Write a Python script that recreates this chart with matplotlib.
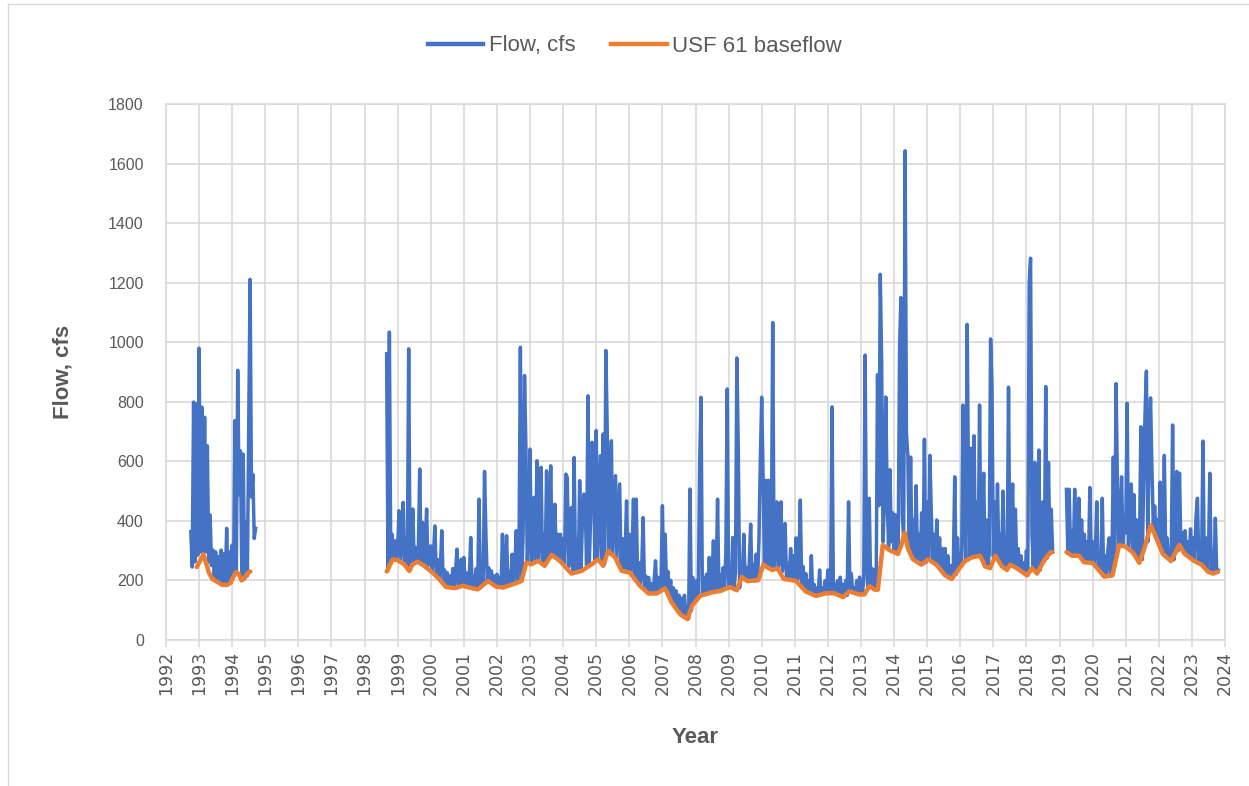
import numpy as np
import matplotlib
matplotlib.use("Agg")
import matplotlib.pyplot as plt
from matplotlib.lines import Line2D

# --- flow (cfs), half-monthly samples, three periods of record ---
flow_start1 = 1992.75
flow_q1 = [364, 245, 799, 262, 793, 285,                                           # 1992
           980, 296, 782, 285, 748, 296, 652, 262, 420, 250, 302, 215,
           296, 205, 280, 200, 302, 195, 290, 190, 375, 190, 296, 195,             # 1993
           319, 215, 737, 230, 906, 488, 635, 215, 624, 205, 398, 215,
           725, 1211, 480, 556, 341, 375]                                          # 1994

flow_start2 = 1998 + 16 / 24
flow_q2 = [961, 235, 1034, 265, 355, 272, 333, 270,                                 # 1998
           311, 434, 265, 330, 462, 258, 322, 245, 978, 235, 330, 440,
           255, 311, 260, 300, 574, 262, 395, 255, 310, 440, 250, 300,             # 1999
           316, 232, 290, 383, 222, 270, 208, 250, 367, 195, 235, 182,
           226, 180, 215, 178, 240, 176, 230, 305, 178, 225, 271, 184,             # 2000
           277, 180, 225, 178, 220, 344, 176, 215, 174, 240, 172, 473,
           175, 232, 185, 566, 355, 195, 243, 195, 232, 185, 215, 180,             # 2001
           221, 180, 210, 178, 355, 180, 221, 350, 182, 230, 185, 288,
           190, 250, 367, 195, 288, 983, 200, 360, 888, 647, 262, 355,             # 2002
           641, 256, 340, 479, 262, 602, 266, 345, 580, 255, 355, 250,
           568, 270, 367, 585, 285, 340, 456, 280, 355, 270, 355, 262,             # 2003
           340, 255, 557, 546, 245, 330, 445, 228, 613, 230, 340, 232,
           535, 240, 400, 490, 467, 250, 820, 260, 420, 664, 624, 262,             # 2004
           703, 270, 450, 619, 262, 692, 255, 972, 703, 290, 450, 669,
           285, 420, 552, 275, 400, 524, 250, 340, 238, 300, 467, 232,             # 2005
           355, 228, 300, 473, 215, 473, 205, 260, 185, 240, 411, 175,
           215, 165, 210, 158, 190, 157, 200, 266, 158, 210, 162, 195,             # 2006
           451, 175, 355, 170, 230, 160, 200, 135, 175, 120, 165, 105,
           150, 90, 140, 82, 150, 78, 110, 72, 507, 100, 210, 125,                 # 2007
           131, 200, 140, 591, 815, 150, 210, 152, 221, 155, 277, 158,
           210, 333, 160, 215, 473, 163, 220, 165, 243, 170, 288, 843,             # 2008
           175, 221, 176, 344, 170, 230, 947, 647, 175, 243, 208, 355,
           205, 243, 200, 260, 389, 200, 254, 198, 288, 200, 333, 596,             # 2009
           815, 557, 255, 536, 250, 536, 245, 300, 1066, 240, 307, 464,
           242, 283, 464, 230, 271, 391, 207, 259, 205, 307, 203, 283,             # 2010
           201, 343, 200, 247, 470, 190, 247, 175, 223, 165, 200, 160,
           283, 155, 187, 150, 175, 150, 235, 152, 175, 155, 199, 157,             # 2011
           235, 158, 180, 783, 158, 187, 155, 199, 150, 211, 146, 187,
           145, 200, 150, 464, 162, 223, 160, 175, 156, 200, 154, 211,             # 2012
           187, 155, 200, 957, 283, 180, 476, 185, 240, 172, 235, 170,
           891, 451, 1228, 933, 330, 464, 816, 476, 310, 572, 330, 427,            # 2013
           300, 420, 379, 295, 987, 1150, 415, 340, 1643, 692, 620, 310,
           614, 285, 403, 275, 518, 265, 355, 258, 427, 255, 674, 260,             # 2014
           464, 270, 620, 427, 265, 355, 255, 403, 255, 343, 240, 307,
           225, 307, 215, 283, 207, 250, 205, 260, 548, 220, 343, 240,             # 2015
           283, 250, 789, 464, 268, 1060, 524, 275, 644, 278, 686, 280,
           464, 282, 789, 283, 403, 560, 250, 403, 245, 290, 1011, 849,            # 2016
           280, 464, 283, 524, 270, 355, 250, 500, 245, 343, 236, 849,
           250, 403, 524, 250, 439, 242, 307, 235, 283, 228, 259, 220,             # 2017
           300, 218, 1200, 1282, 355, 240, 596, 228, 343, 638, 235, 367,
           464, 265, 851, 275, 596, 290, 439, 295]                                 # 2018

flow_start3 = 2019 + 5 / 24
flow_q3 = [506, 300, 506, 290, 367, 285, 506,
           284, 343, 476, 283, 403, 275, 355, 262, 330, 262, 512, 260,             # 2019
           330, 255, 295, 464, 240, 290, 225, 476, 215, 283, 213, 300,
           343, 215, 260, 614, 250, 861, 524, 320, 400, 548, 318, 403,             # 2020
           360, 795, 312, 464, 524, 296, 488, 285, 403, 265, 330, 716,
           270, 524, 759, 903, 330, 644, 813, 584, 380, 450, 345, 403,             # 2021
           320, 530, 300, 343, 620, 285, 343, 275, 300, 268, 722, 270,
           343, 566, 300, 560, 315, 360, 300, 367, 285, 330, 280, 373,             # 2022
           270, 343, 268, 415, 476, 262, 307, 255, 668, 250, 343, 240,
           290, 560, 232, 295, 225, 409, 228, 235]                                 # 2023

# --- USF 61 baseflow (cfs) ---
base_t1 = [1992.93, 1993.05, 1993.13, 1993.22, 1993.30, 1993.40, 1993.55, 1993.70, 1993.85, 1993.95,
           1994.05, 1994.12, 1994.20, 1994.28, 1994.35, 1994.45, 1994.55]
base_q1 = [245, 270, 288, 255, 225, 205, 195, 185, 185, 192,
           215, 228, 222, 200, 205, 222, 230]

base_t2 = [1998.67, 1998.85, 1999.00, 1999.20, 1999.35, 1999.45, 1999.60, 1999.80, 2000.06, 2000.26,
           2000.46, 2000.72, 2000.97, 2001.17, 2001.42, 2001.73, 2001.98, 2002.18, 2002.48, 2002.74,
           2002.89, 2003.04, 2003.24, 2003.44, 2003.65, 2003.90, 2004.25, 2004.56, 2004.86, 2005.06,
           2005.21, 2005.36, 2005.57, 2005.77, 2006.02, 2006.32, 2006.58, 2006.83, 2007.08, 2007.28,
           2007.54, 2007.76, 2007.89, 2008.14, 2008.45, 2008.75, 2009.05, 2009.25, 2009.40, 2009.56,
           2009.90, 2010.05, 2010.12, 2010.32, 2010.47, 2010.67, 2011.03, 2011.33, 2011.64, 2011.94,
           2012.19, 2012.45, 2012.65, 2012.95, 2013.10, 2013.26, 2013.41, 2013.51, 2013.66, 2013.87,
           2014.12, 2014.22, 2014.32, 2014.42, 2014.57, 2014.83, 2015.03, 2015.28, 2015.54, 2015.74,
           2015.94, 2016.14, 2016.35, 2016.60, 2016.75, 2016.90, 2017.06, 2017.26, 2017.41, 2017.51,
           2017.71, 2018.02, 2018.17, 2018.32, 2018.52, 2018.73, 2018.78]
base_q2 = [230, 271, 268, 254, 232, 254, 263, 249, 226, 204,
           178, 174, 182, 176, 170, 198, 179, 176, 187, 198,
           260, 254, 266, 249, 286, 266, 223, 232, 254, 271,
           249, 299, 277, 232, 226, 182, 156, 156, 174, 126,
           86, 70, 114, 148, 159, 165, 178, 167, 212, 198,
           201, 254, 247, 235, 241, 205, 199, 163, 148, 157,
           157, 144, 163, 153, 153, 181, 169, 169, 319, 301,
           289, 319, 361, 307, 271, 253, 271, 253, 217, 205,
           235, 265, 277, 283, 247, 241, 283, 247, 235, 253,
           241, 217, 241, 223, 265, 295, 295]

base_t3 = [2019.21, 2019.38, 2019.59, 2019.74, 2019.99, 2020.14, 2020.35, 2020.60, 2020.80, 2021.00,
           2021.21, 2021.41, 2021.56, 2021.76, 2021.92, 2022.12, 2022.37, 2022.62, 2022.78, 2023.08,
           2023.29, 2023.49, 2023.64, 2023.79]
base_q3 = [295, 283, 283, 261, 259, 241, 213, 217, 319, 313,
           295, 259, 307, 385, 343, 289, 265, 319, 289, 265,
           253, 229, 223, 229]

years = list(range(1992, 2025))

W, H = 1249, 786
BLUE = "#4472C4"
ORANGE = "#ED7D31"
GRID = "#D9D9D9"
TXT = "#595959"
plt.rcParams["font.family"] = ["Liberation Sans", "DejaVu Sans"]


def half_months(start, values):
    # sample times for a run of half-monthly values
    return start + np.arange(len(values)) / 24


fig = plt.figure(figsize=(W / 100, H / 100), dpi=100)
ax = fig.add_axes([166 / W, 1 - 640 / H, (1225 - 166) / W, (640 - 104) / H])

for start, q in [(flow_start1, flow_q1), (flow_start2, flow_q2), (flow_start3, flow_q3)]:
    ax.plot(half_months(start, q), q, color=BLUE, lw=2.5, zorder=3)
for t, q in [(base_t1, base_q1), (base_t2, base_q2), (base_t3, base_q3)]:
    ax.plot(t, q, color=ORANGE, lw=3.2, solid_capstyle="round", zorder=4)

ax.set_xlim(1992, 2024)
ax.set_ylim(0, 1800)
ax.set_xticks(years)
ax.set_xticklabels([str(y) for y in years], rotation=90, family="DejaVu Sans", fontsize=12.5)
ax.set_yticks(range(0, 1801, 200))
ax.tick_params(axis="y", length=0, pad=16, labelsize=11.5, labelcolor=TXT)
ax.tick_params(axis="x", length=5, width=1.1, color=GRID, pad=3, labelcolor=TXT)
ax.grid(color=GRID, lw=1.2)
ax.set_axisbelow(True)
for s in ax.spines.values():
    s.set_color(GRID)
    s.set_linewidth(1.2)

ax.set_ylabel("Flow, cfs", fontsize=16, fontweight="bold", color=TXT)
ax.set_xlabel("Year", fontsize=16, fontweight="bold", color=TXT)
ax.yaxis.set_label_coords((74 - 166) / (1225 - 166), 0.5)
ax.xaxis.set_label_coords(0.5, -(727 - 640) / (640 - 104))

handles = [Line2D([], [], color=BLUE, lw=3.2), Line2D([], [], color=ORANGE, lw=3.2)]
fig.legend(handles, ["Flow, cfs", "USF 61 baseflow"], loc="center",
           bbox_to_anchor=(635 / W, 1 - 46 / H), ncol=2, frameon=False,
           fontsize=16, labelcolor=TXT, handlelength=2.5, handletextpad=0.25,
           columnspacing=1.6)

# chart-area border
fig.add_artist(Line2D([8 / W, 8 / W], [0, 1 - 4 / H], color=GRID, lw=1.0))
fig.add_artist(Line2D([8 / W, 1], [1 - 4 / H, 1 - 4 / H], color=GRID, lw=1.0))

fig.savefig("out.png", dpi=100)
